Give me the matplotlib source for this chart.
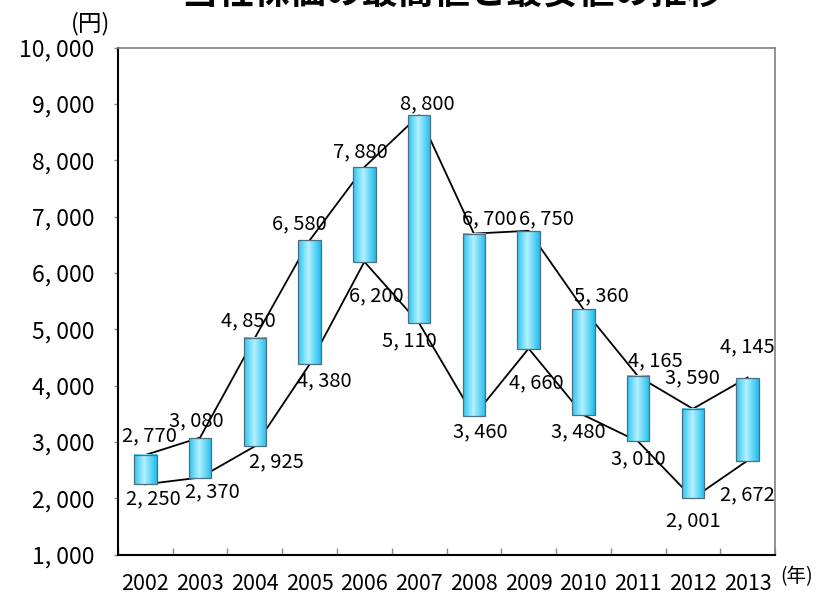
import numpy as np
import matplotlib
matplotlib.use("Agg")
import matplotlib.pyplot as plt
from matplotlib.colors import LinearSegmentedColormap
from matplotlib.patches import Rectangle

plt.rcParams['font.family'] = ['Noto Sans CJK JP', 'DejaVu Sans']

# ---- data ----
years = ['2002', '2003', '2004', '2005', '2006', '2007',
         '2008', '2009', '2010', '2011', '2012', '2013']
highs = [2770, 3080, 4850, 6580, 7880, 8800, 6700, 6750, 5360, 4165, 3590, 4145]
lows = [2250, 2370, 2925, 4380, 6200, 5110, 3460, 4660, 3480, 3010, 2001, 2672]
yticks = [1000, 2000, 3000, 4000, 5000, 6000, 7000, 8000, 9000, 10000]
title = '当社株価の最高値と最安値の推移'

# label offsets in pixels (placement only)
high_off = [(4, -19), (-4, -17), (-6, -17), (-10, -17), (-4, -15), (8, -12),
            (15, -15), (18, -12), (18, -13), (17, -16), (0, -31), (0, -31)]
low_off = [(8, 15), (12, 14), (22, 16), (15, 17), (12, 34), (-10, 18),
           (6, 16), (8, 34), (-5, 17), (0, 17), (0, 22), (0, 34)]

def fmt(v):
    return f'{v:,}'.replace(',', ', ')

fig = plt.figure(figsize=(8.2, 5.97), dpi=100)
ax = fig.add_axes([118 / 820, 1 - 554.7 / 597, 657 / 820, (554.7 - 47.7) / 597])

x = np.arange(len(years))
ax.plot(x, highs, color='black', lw=1.3, zorder=2)
ax.plot(x, lows, color='black', lw=1.3, zorder=2)

cmap = LinearSegmentedColormap.from_list(
    'bar', [(0.0, '#2ec4f2'), (0.45, '#b4f1ff'), (1.0, '#1ebcee')])
grad = np.linspace(0, 1, 64).reshape(1, -1)
w = 0.41
for xi, lo, hi in zip(x, lows, highs):
    ax.imshow(grad, cmap=cmap, extent=[xi - w / 2, xi + w / 2, lo, hi],
              aspect='auto', zorder=3, interpolation='bilinear')
    ax.add_patch(Rectangle((xi - w / 2, lo), w, hi - lo, fill=False,
                           edgecolor='#4d6f80', lw=0.9, zorder=4))

for xi, v, (dx, dy) in zip(x, highs, high_off):
    ax.annotate(fmt(v), (xi, v), xytext=(dx, -dy), textcoords='offset pixels',
                ha='center', va='center', fontsize=14.5, zorder=5)
for xi, v, (dx, dy) in zip(x, lows, low_off):
    ax.annotate(fmt(v), (xi, v), xytext=(dx, -dy), textcoords='offset pixels',
                ha='center', va='center', fontsize=14.5, zorder=5)

ax.set_xlim(-0.5, len(years) - 0.5)
ax.set_ylim(1000, 10000)
ax.set_yticks(yticks)
ax.set_yticklabels([fmt(v) for v in yticks], fontsize=16.5)
ax.set_xticks(x)
ax.set_xticklabels(years, fontsize=15.5)
ax.tick_params(axis='x', length=0, pad=13)
ax.set_xticks(np.arange(len(years) + 1) - 0.5, minor=True)
ax.tick_params(axis='x', which='minor', direction='in', length=5, color='#888888', width=1)
ax.tick_params(axis='y', direction='out', length=3, color='#888888', width=1, pad=14)

for s in ['left', 'bottom']:
    ax.spines[s].set_color('black')
    ax.spines[s].set_linewidth(1.5)
for s in ['top', 'right']:
    ax.spines[s].set_color('#808080')
    ax.spines[s].set_linewidth(1.2)

fig.text(452 / 820, 1 + 6 / 597, title, ha='center', va='center',
         fontsize=26, fontweight='bold')
fig.text(91 / 820, 1 - 24 / 597, '(円)', ha='center', va='center', fontsize=17)
fig.text(797 / 820, 1 - 577 / 597, '(年)', ha='center', va='center', fontsize=14)

fig.savefig('out.png', dpi=100)
